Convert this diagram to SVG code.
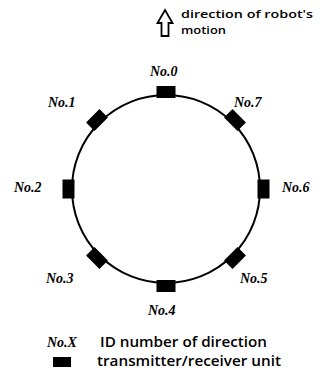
<svg xmlns="http://www.w3.org/2000/svg" width="320" height="380" viewBox="0 0 320 380">
<style>
.lbl{font-family:"Liberation Serif","Times New Roman",serif;font-style:italic;font-weight:bold;font-size:14px;fill:#000}
.txt{font-family:"Open Sans","Liberation Sans",sans-serif;font-weight:600;font-size:14px;fill:#000}
.sm{font-family:"Open Sans","Liberation Sans",sans-serif;font-weight:600;font-size:11px;fill:#000}
.unit{fill:#000}
</style>
<defs>
<rect id="sq" x="-9.5" y="-6" width="19" height="12"/>
</defs>
<g id="motion">
<path d="M165,10 L172.5,23 L168.5,23 L168.5,36 L161.5,36 L161.5,23 L157.5,23 Z" fill="#fff" stroke="#000" stroke-width="1.8" stroke-linejoin="miter"/>
<text class="sm" x="181" y="18" textLength="132" lengthAdjust="spacingAndGlyphs">direction of robot's</text>
<text class="sm" x="181" y="34" textLength="45" lengthAdjust="spacingAndGlyphs">motion</text>
</g>
<g id="robot">
<circle cx="166" cy="189" r="94" fill="none" stroke="#000" stroke-width="2"/>
</g>
<g id="unit0"><use href="#sq" class="unit" transform="translate(166,92)"/><text class="lbl" x="150" y="76">No.0</text></g>
<g id="unit1"><use href="#sq" class="unit" transform="translate(97,120) rotate(-45)"/><text class="lbl" x="48" y="107">No.1</text></g>
<g id="unit2"><use href="#sq" class="unit" transform="translate(68.5,189) rotate(-90)"/><text class="lbl" x="14" y="192">No.2</text></g>
<g id="unit3"><use href="#sq" class="unit" transform="translate(97,258) rotate(45)"/><text class="lbl" x="46" y="283">No.3</text></g>
<g id="unit4"><use href="#sq" class="unit" transform="translate(166,286)"/><text class="lbl" x="148" y="315">No.4</text></g>
<g id="unit5"><use href="#sq" class="unit" transform="translate(235,258) rotate(-45)"/><text class="lbl" x="240" y="283">No.5</text></g>
<g id="unit6"><use href="#sq" class="unit" transform="translate(263.5,189) rotate(90)"/><text class="lbl" x="282" y="192">No.6</text></g>
<g id="unit7"><use href="#sq" class="unit" transform="translate(235,120) rotate(45)"/><text class="lbl" x="234" y="107">No.7</text></g>
<g id="connectors"></g>
<g id="legend">
<text class="lbl" x="47" y="347">No.X</text>
<text class="txt" x="100" y="347" textLength="167" lengthAdjust="spacingAndGlyphs">ID number of direction</text>
<rect x="53" y="357" width="18" height="10" fill="#000"/>
<text class="txt" x="97" y="366" textLength="184" lengthAdjust="spacingAndGlyphs">transmitter/receiver unit</text>
</g>
</svg>
